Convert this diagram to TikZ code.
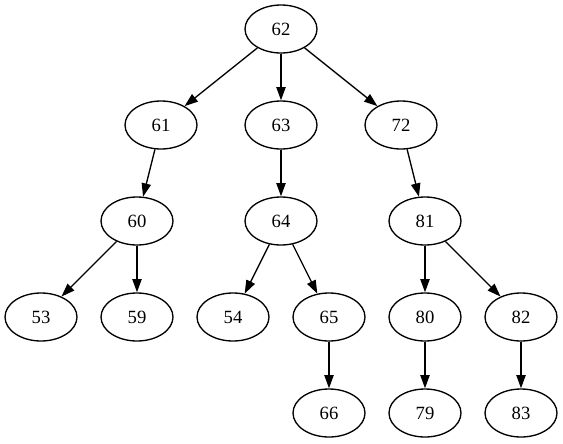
\documentclass[tikz,border=0pt]{standalone}
\usepackage{fontspec}
\setmainfont{Liberation Serif}
\usetikzlibrary{shapes.geometric,arrows.meta}
\begin{document}
\begin{tikzpicture}[x=0.75pt,y=-0.75pt,
  nd/.style={draw,ellipse,line width=1pt,minimum width=54pt,minimum height=36pt,inner sep=0pt,font=\fontsize{14pt}{16pt}\selectfont},
  ar/.style={line width=1pt,-{Triangle[length=10pt,width=7pt]}}]
\useasboundingbox (0,0) rectangle (563,443);
\node[nd] (n62) at (281,29) {62};
\node[nd] (n61) at (161,125) {61};
\node[nd] (n63) at (281,125) {63};
\node[nd] (n72) at (401,125) {72};
\node[nd] (n60) at (137,221) {60};
\node[nd] (n64) at (281,221) {64};
\node[nd] (n81) at (425,221) {81};
\node[nd] (n53) at (41,317) {53};
\node[nd] (n59) at (137,317) {59};
\node[nd] (n54) at (233,317) {54};
\node[nd] (n65) at (329,317) {65};
\node[nd] (n80) at (425,317) {80};
\node[nd] (n82) at (521,317) {82};
\node[nd] (n66) at (329,413) {66};
\node[nd] (n79) at (425,413) {79};
\node[nd] (n83) at (521,413) {83};
\draw[ar] (n62) -- (n61);
\draw[ar] (n62) -- (n63);
\draw[ar] (n62) -- (n72);
\draw[ar] (n61) -- (n60);
\draw[ar] (n63) -- (n64);
\draw[ar] (n72) -- (n81);
\draw[ar] (n60) -- (n53);
\draw[ar] (n60) -- (n59);
\draw[ar] (n64) -- (n54);
\draw[ar] (n64) -- (n65);
\draw[ar] (n81) -- (n80);
\draw[ar] (n81) -- (n82);
\draw[ar] (n65) -- (n66);
\draw[ar] (n80) -- (n79);
\draw[ar] (n82) -- (n83);
\end{tikzpicture}
\end{document}
